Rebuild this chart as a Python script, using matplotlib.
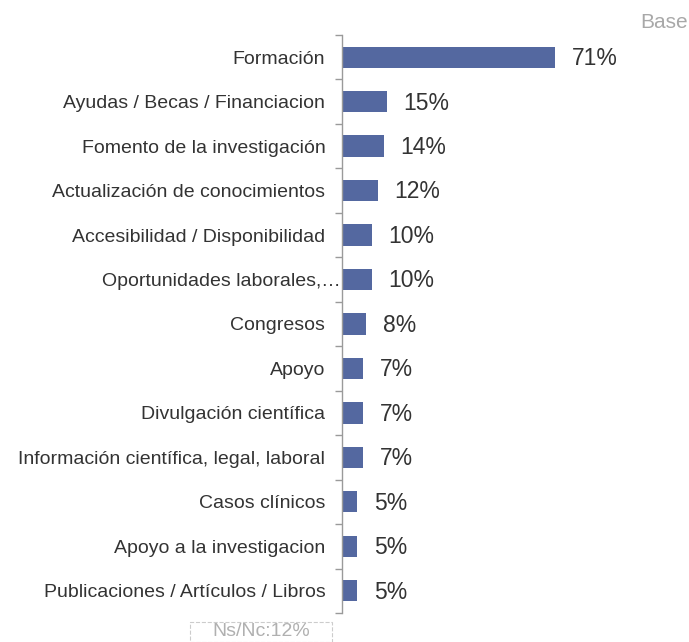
import matplotlib.pyplot as plt
from matplotlib.patches import Rectangle
from matplotlib.transforms import ScaledTranslation

plt.rcParams["font.family"] = ["Liberation Sans", "DejaVu Sans"]

categorias = [
    "Formación",
    "Ayudas / Becas / Financiacion",
    "Fomento de la investigación",
    "Actualización de conocimientos",
    "Accesibilidad / Disponibilidad",
    "Oportunidades laborales,…",
    "Congresos",
    "Apoyo",
    "Divulgación científica",
    "Información científica, legal, laboral",
    "Casos clínicos",
    "Apoyo a la investigacion",
    "Publicaciones / Artículos / Libros",
]
valores = [71, 15, 14, 12, 10, 10, 8, 7, 7, 7, 5, 5, 5]
etiquetas = [f"{v}%" for v in valores]
nota_base = "Base"
nota_nsnc = "Ns/Nc:12%"

COLOR_BARRA = "#5468a0"
COLOR_TEXTO = "#333333"
COLOR_EJE = "#9a9a9a"

fig = plt.figure(figsize=(6.89, 6.42), dpi=100)
ax = fig.add_axes([0.4964, 0.0452, 0.4354, 0.9003])

n = len(categorias)
pos = list(range(n))
ax.barh(pos, valores, height=0.48, color=COLOR_BARRA)
ax.set_xlim(0, 100)
ax.set_ylim(n - 0.5, -0.5)

for p, v, t in zip(pos, valores, etiquetas):
    ax.annotate(t, (v, p), xytext=(12, -1), textcoords="offset points",
                va="center", ha="left", fontsize=16.5, color=COLOR_TEXTO)

ax.set_yticks(pos)
ax.set_yticklabels(categorias, fontsize=14, color=COLOR_TEXTO)
ax.tick_params(axis="y", length=0, pad=12)
ax.set_yticks([p - 0.5 for p in pos] + [n - 0.5], minor=True)
ax.tick_params(axis="y", which="minor", length=5, color=COLOR_EJE, width=1)
ax.set_xticks([])
for lado in ["top", "right", "bottom"]:
    ax.spines[lado].set_visible(False)
ax.spines["left"].set_color(COLOR_EJE)
ax.spines["left"].set_linewidth(1)

# la etiqueta recortada invade el eje, como en el original
lab = ax.get_yticklabels()[5]
lab.set_transform(lab.get_transform()
                  + ScaledTranslation(15 / 100, 0, fig.dpi_scale_trans))

fig.text(0.998, 0.965, nota_base, ha="right", va="center",
         fontsize=15, color="#a8a8a8")

fig.patches.append(Rectangle((190 / 689, 0.0), 142 / 689, 20 / 642,
                             transform=fig.transFigure, fill=False,
                             edgecolor="#cccccc", ls="--", lw=0.8))
fig.text(261 / 689, 10 / 642, nota_nsnc, ha="center", va="center",
         fontsize=14, color="#b0b0b0")

fig.savefig("out.png", dpi=100)
